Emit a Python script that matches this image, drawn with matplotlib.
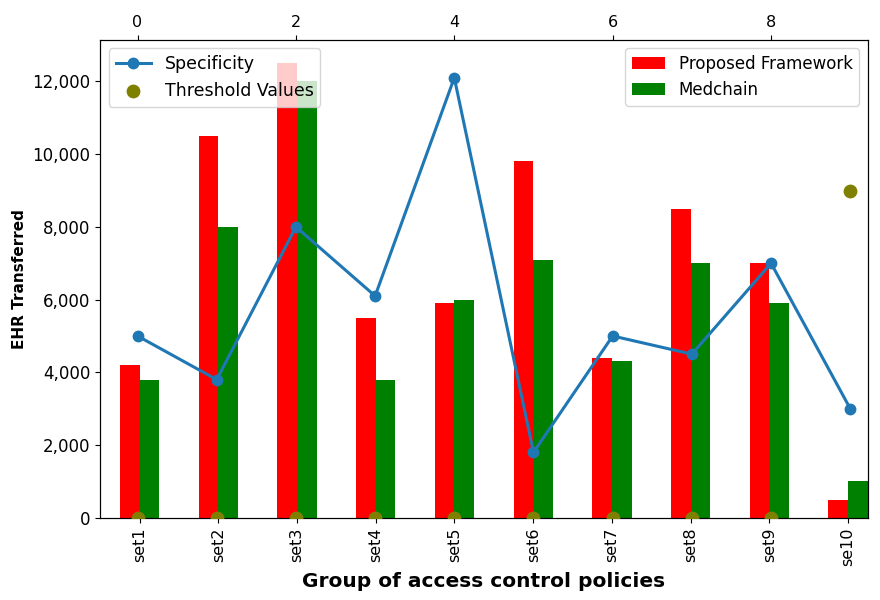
import matplotlib
matplotlib.use("Agg")
import matplotlib.pyplot as plt
from matplotlib.ticker import FuncFormatter

# Data
grupos = ["set1", "set2", "set3", "set4", "set5", "set6", "set7", "set8", "set9", "se10"]
proposto = [4200, 10500, 12500, 5500, 5900, 9800, 4400, 8500, 7000, 500]
medchain = [3800, 8000, 12000, 3800, 6000, 7100, 4300, 7000, 5900, 1000]
especificidade = [5000, 3800, 8000, 6100, 12100, 1800, 5000, 4500, 7000, 3000]
limiares = [0, 0, 0, 0, 0, 0, 0, 0, 0, 9000]

fig = plt.figure(figsize=(8.8, 6), dpi=100)
ax = fig.add_axes([0.114, 0.137, 0.872, 0.797])

pos = list(range(len(grupos)))
largura = 0.25
ax.bar([p - largura / 2 for p in pos], proposto, largura, color="red", label="Proposed Framework")
ax.bar([p + largura / 2 for p in pos], medchain, largura, color="green", label="Medchain")
ax.set_xticks(pos)
ax.set_xticklabels(grupos, rotation=90, fontsize=11.5)
ax.set_xlim(-0.5, 9.25)
ax.set_ylim(0, 13150)
ax.yaxis.set_major_formatter(FuncFormatter(lambda v, _: f"{int(v):,}"))
ax.tick_params(axis="y", labelsize=12)
ax.set_ylabel("EHR Transferred", fontsize=11, fontweight="bold")
ax.set_xlabel("Group of access control policies", fontsize=14.5, fontweight="bold")
ax.legend(loc="upper right", fontsize=12)

# Linha de especificidade num eixo gémeo (topo)
ax2 = ax.twiny()
ax2.plot(pos, especificidade, color="#1f77b4", marker="o", linewidth=2.2,
         markersize=7.5, label="Specificity")
ax2.scatter(pos, limiares, color="olive", s=80, zorder=3, label="Threshold Values")
ax2.set_xlim(-0.47, 9.22)
ax2.set_xticks([0, 2, 4, 6, 8])
ax2.tick_params(axis="x", labelsize=11.5)
ax2.legend(loc="upper left", fontsize=12.5)

fig.savefig("out.png", dpi=100)
plt.close(fig)
